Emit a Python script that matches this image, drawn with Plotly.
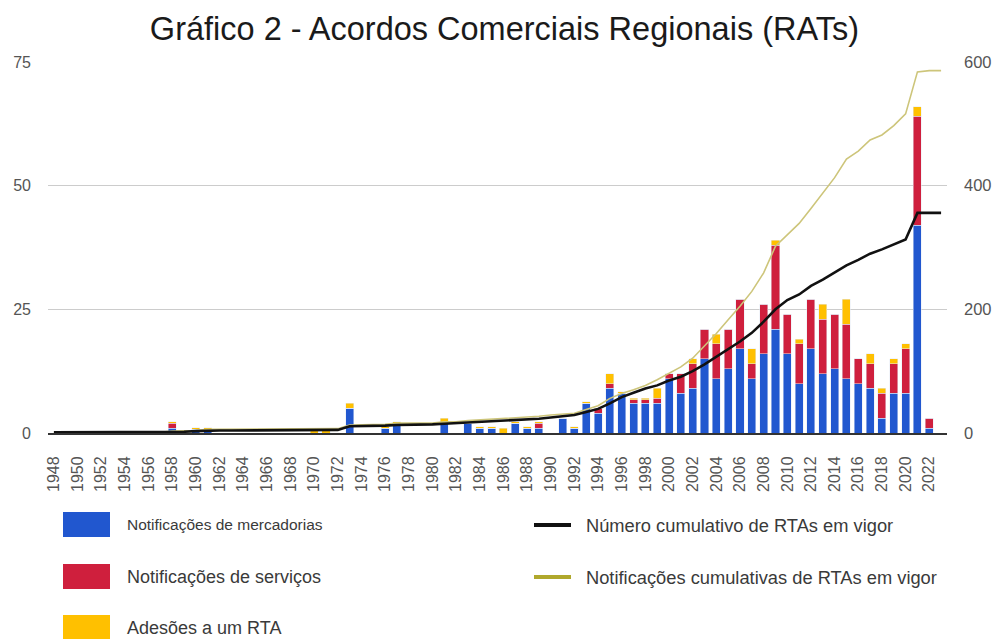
import plotly.graph_objects as go

years = [str(y) for y in range(1948, 2024)]

# Bars (left axis): notifications per year
goods = {
    1958: 1, 1960: 0.8, 1961: 0.8, 1973: 5, 1976: 1, 1977: 2, 1981: 2, 1983: 2,
    1984: 1, 1985: 1, 1987: 2, 1988: 1, 1989: 1, 1991: 3, 1992: 1, 1993: 6,
    1994: 4, 1995: 9, 1996: 8, 1997: 6, 1998: 6, 1999: 6, 2000: 11, 2001: 8,
    2002: 9, 2003: 15, 2004: 11, 2005: 13, 2006: 17, 2007: 11, 2008: 16,
    2009: 21, 2010: 16, 2011: 10, 2012: 17, 2013: 12, 2014: 13, 2015: 11,
    2016: 10, 2017: 9, 2018: 3, 2019: 8, 2020: 8, 2021: 42, 2022: 1,
}
services = {
    1958: 1, 1989: 1, 1994: 1, 1995: 1, 1997: 0.7, 1998: 0.7, 1999: 1,
    2000: 1, 2001: 4, 2002: 5, 2003: 6, 2004: 7, 2005: 8, 2006: 10, 2007: 3,
    2008: 10, 2009: 17, 2010: 8, 2011: 8, 2012: 10, 2013: 11, 2014: 11,
    2015: 11, 2016: 5, 2017: 5, 2018: 5, 2019: 6, 2020: 9, 2021: 22, 2022: 2,
}
accessions = {
    1958: 0.3, 1960: 0.3, 1961: 0.3, 1970: 0.5, 1971: 0.6, 1973: 1, 1976: 0.3,
    1977: 0.3, 1981: 1, 1983: 0.3, 1984: 0.3, 1985: 0.3, 1986: 1, 1987: 0.3,
    1988: 0.3, 1989: 0.3, 1992: 0.3, 1993: 0.3, 1995: 2, 1996: 0.3, 1997: 0.3,
    1998: 0.3, 1999: 2, 2002: 1, 2004: 2, 2007: 3, 2009: 1, 2011: 1, 2013: 3,
    2015: 5, 2017: 2, 2018: 1, 2019: 1, 2020: 1, 2021: 2,
}

# Lines (right axis): cumulative counts
cum_in_force = [
    1, 1, 1, 1, 1, 1, 1, 1, 1, 1,           # 1948-1957
    2, 2, 3, 4, 4, 4, 4, 4, 4, 4,           # 1958-1967
    4, 4, 4, 5, 5, 11, 11, 11, 12, 13,      # 1968-1977
    13, 13, 14, 15, 16, 17, 18, 19, 19, 20, # 1978-1987
    21, 23, 25, 27, 29, 34, 39, 48, 58, 65, # 1988-1997
    72, 77, 85, 91, 100, 111, 123, 136, 148, 162,  # 1998-2007
    180, 200, 215, 224, 238, 248, 260, 271, 280, 290,  # 2008-2017
    297, 305, 313, 356, 356, 356,           # 2018-2023
]
cum_notifications = [
    1, 1, 1, 1, 1, 1, 1, 1, 1, 1,
    3, 3, 4, 6, 6, 6, 6, 6, 6, 6,
    6, 6, 6, 7, 7, 13, 13, 13, 14, 16,
    16, 16, 16, 18, 18, 20, 21, 22, 23, 25,
    26, 27, 29, 30, 32, 38, 44, 56, 64, 70,
    77, 86, 96, 107, 121, 141, 161, 183, 205, 229,
    259, 302, 321, 339, 363, 389, 413, 443, 456, 474,
    482, 497, 516, 584, 586, 586,
]

tick_years = [str(y) for y in range(1948, 2024, 2)]

def series(d):
    return [d.get(int(y), 0) for y in years]

BLUE = "#2157cf"
RED = "#cf1f3d"
YELLOW = "#ffc000"
KHAKI = "#cdc57a"
KHAKI_LEG = "#b0a82c"

fig = go.Figure()
fig.add_bar(x=years, y=series(goods), marker_color=BLUE, name="Notificações de mercadorias")
fig.add_bar(x=years, y=series(services), marker_color=RED, name="Notificações de serviços")
fig.add_bar(x=years, y=series(accessions), marker_color=YELLOW, name="Adesões a um RTA")
fig.add_scatter(x=years, y=cum_notifications, yaxis="y2", mode="lines",
                line=dict(color=KHAKI, width=1.6), name="Notificações cumulativas de RTAs em vigor")
fig.add_scatter(x=years, y=cum_in_force, yaxis="y2", mode="lines",
                line=dict(color="#111111", width=2.6), name="Número cumulativo de RTAs em vigor")

L, R, T, B = 48, 50, 62, 206
W, H = 997, 639
PW, PH = W - L - R, H - T - B

def px(xp):
    return (xp - L) / PW

def py(yp):
    return (H - B - yp) / PH

fig.update_layout(
    width=W, height=H,
    margin=dict(l=L, r=R, t=T, b=B, autoexpand=False),
    paper_bgcolor="white", plot_bgcolor="white",
    barmode="stack", bargap=0.32,
    showlegend=False,
    font=dict(family="Liberation Sans, Arial, sans-serif", color="#444444"),
    title=dict(text="Gráfico 2 - Acordos Comerciais Regionais (RATs)",
               x=0.506, xanchor="center", y=1 - 29 / H, yanchor="middle", yref="container",
               font=dict(size=32.5, color="#1a1a1a")),
    xaxis=dict(type="category", tickmode="array", tickvals=tick_years, ticktext=tick_years,
               tickangle=-90, tickfont=dict(size=16, color="#555555"),
               showline=True, linecolor="#333333", linewidth=2, showgrid=False,
               ticks="", ticklabelstandoff=15, automargin=False),
    yaxis=dict(range=[0, 75], tickvals=[0, 25, 50, 75], showgrid=True, gridcolor="#cccccc",
               gridwidth=1, zeroline=False, tickfont=dict(size=16, color="#555555"),
               ticklabelstandoff=16, automargin=False),
    yaxis2=dict(range=[0, 600], tickvals=[0, 200, 400, 600], overlaying="y", side="right",
                showgrid=False, zeroline=False, tickfont=dict(size=16.5, color="#555555"),
                ticklabelstandoff=16, automargin=False),
)

# Custom legend (two columns) below the plot
shapes = []
annotations = []
left_items = [
    ("Notificações de mercadorias", BLUE, 512, 537, 15.5),
    ("Notificações de serviços", RED, 564, 589, 18),
    ("Adesões a um RTA", YELLOW, 615, 640, 18),
]
for text, col, y0, y1, fs in left_items:
    shapes.append(dict(type="rect", xref="paper", yref="paper",
                       x0=px(63), x1=px(110), y0=py(y1), y1=py(y0),
                       fillcolor=col, line=dict(width=0)))
    annotations.append(dict(text=text, xref="paper", yref="paper", x=px(125),
                            y=py(min((y0 + y1) / 2, 629)),
                            xanchor="left", yanchor="middle", showarrow=False,
                            font=dict(size=fs, color="#3a3a3a")))
right_items = [
    ("Número cumulativo de RTAs em vigor", "#111111", 525),
    ("Notificações cumulativas de RTAs em vigor", KHAKI_LEG, 577),
]
for text, col, yc in right_items:
    shapes.append(dict(type="line", xref="paper", yref="paper",
                       x0=px(534), x1=px(571), y0=py(yc), y1=py(yc),
                       line=dict(color=col, width=4)))
    annotations.append(dict(text=text, xref="paper", yref="paper", x=px(584), y=py(yc),
                            xanchor="left", yanchor="middle", showarrow=False,
                            font=dict(size=18.3, color="#3a3a3a")))

fig.update_layout(shapes=shapes, annotations=annotations)

fig.write_html("out.html", config=dict(displayModeBar=False),
               post_script="document.body.style.margin='0';document.body.style.overflow='hidden';")
